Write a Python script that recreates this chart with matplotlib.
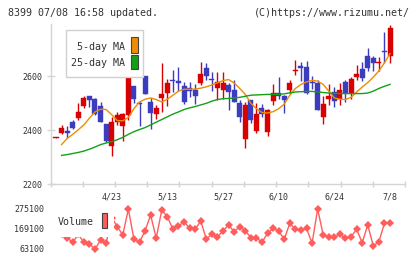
import matplotlib
matplotlib.use("Agg")
import matplotlib.pyplot as plt
from matplotlib.patches import Rectangle
import numpy as np

# ---------------- data ----------------
opens = [2373, 2390, 2396, 2431, 2447, 2490, 2526, 2515, 2489, 2422,
         2341, 2431, 2415, 2458, 2563, 2500, 2600, 2505, 2460, 2519,
         2538, 2587, 2581, 2563, 2555, 2548, 2575, 2630, 2591, 2557,
         2551, 2569, 2551, 2501, 2369, 2511, 2396, 2484, 2394, 2507,
         2540, 2528, 2548, 2619, 2637, 2634, 2579, 2575, 2449, 2516,
         2542, 2517, 2578, 2538, 2597, 2626, 2674, 2668, 2650, 2692, 2675]
closes = [2374, 2410, 2390, 2410, 2467, 2521, 2513, 2459, 2431, 2359,
          2431, 2455, 2459, 2610, 2517, 2498, 2535, 2464, 2481, 2534,
          2575, 2583, 2576, 2506, 2545, 2526, 2608, 2601, 2587, 2579,
          2575, 2542, 2505, 2449, 2493, 2440, 2459, 2459, 2477, 2540,
          2527, 2511, 2577, 2624, 2631, 2538, 2575, 2477, 2499, 2526,
          2507, 2551, 2538, 2589, 2607, 2595, 2631, 2650, 2652, 2689, 2780]
highs = [2375, 2418, 2415, 2440, 2501, 2526, 2527, 2521, 2506, 2424,
         2450, 2468, 2463, 2620, 2565, 2505, 2600, 2520, 2492, 2650,
         2590, 2622, 2635, 2580, 2580, 2570, 2653, 2650, 2616, 2616,
         2616, 2577, 2588, 2511, 2505, 2513, 2500, 2496, 2478, 2570,
         2597, 2529, 2588, 2662, 2653, 2656, 2601, 2585, 2526, 2570,
         2560, 2575, 2585, 2597, 2641, 2653, 2706, 2676, 2670, 2764, 2789]
lows = [2372, 2385, 2370, 2403, 2440, 2482, 2485, 2457, 2431, 2357,
        2305, 2418, 2360, 2440, 2500, 2415, 2533, 2405, 2443, 2468,
        2490, 2542, 2545, 2499, 2525, 2499, 2568, 2585, 2545, 2511,
        2515, 2476, 2504, 2430, 2336, 2427, 2390, 2450, 2378, 2493,
        2517, 2465, 2535, 2604, 2582, 2536, 2554, 2476, 2425, 2493,
        2487, 2493, 2505, 2515, 2585, 2583, 2620, 2620, 2620, 2649, 2649]

ma5 = [None, 2347, 2370, 2385, 2402, 2420, 2445, 2468, 2478, 2477,
       2458, 2436, 2435, 2448, 2480, 2505, 2515, 2520, 2514, 2505,
       2515, 2530, 2545, 2552, 2552, 2553, 2556, 2561, 2568, 2576,
       2584, 2588, 2575, 2555, 2533, 2500, 2480, 2466, 2464, 2469,
       2480, 2497, 2530, 2555, 2570, 2579, 2585, 2582, 2570, 2545,
       2520, 2515, 2514, 2522, 2542, 2560, 2577, 2597, 2620, 2650, 2684]
ma25 = [None, 2307, 2310, 2314, 2318, 2323, 2330, 2338, 2347, 2353,
        2358, 2365, 2374, 2385, 2395, 2403, 2410, 2420, 2430, 2440,
        2450, 2460, 2468, 2477, 2483, 2488, 2494, 2500, 2508, 2514,
        2517, 2518, 2520, 2522, 2526, 2530, 2531, 2532, 2533, 2533,
        2533, 2535, 2539, 2542, 2543, 2544, 2544, 2542, 2540, 2538,
        2537, 2536, 2536, 2536, 2536, 2536, 2538, 2545, 2555, 2563, 2570]

volume = [150000, 140000, 122000, 98600, 140000, 98600, 89600, 61500, 110800, 93300,
          230000, 181300, 137300, 275100, 114500, 98600, 160200, 243300, 119800, 269800,
          234300, 167500, 185000, 207800, 172600, 167500, 211500, 116100, 140900, 128300,
          158500, 190300, 154800, 181300, 160200, 123000, 123000, 98600, 146200, 172600,
          158500, 114500, 199300, 167500, 163800, 172600, 93300, 275100, 137300, 125000,
          125000, 142600, 119800, 128300, 167500, 96500, 190300, 79000, 101900, 199300, 199300]

date_labels = ["4/23", "5/13", "5/27", "6/10", "6/24", "7/8"]
date_idx = [10, 20, 30, 40, 50, 60]
price_ticks = [2200, 2400, 2600]
vol_ticks = [63100, 169100, 275100]

title_left = "8399 07/08 16:58 updated."
title_right = "(C)https://www.rizumu.net/"

# ---------------- style ----------------
RED = "#d80000"
BLUE = "#3c3cbe"
ORANGE = "#f08c00"
GREEN = "#14a014"
VOLC = "#ff5c5c"
AXC = "#d4d4d4"
TXT = "#333333"
MONO = "DejaVu Sans Mono"

W, H = 420, 259
fig = plt.figure(figsize=(W / 100, H / 100), dpi=100)
fig.patch.set_facecolor("white")


def fx(px):
    return px / W


def fy(py):
    return 1 - py / H


# main axes: x px 50.5..405, y px 24..184.3
ax = fig.add_axes([fx(50.5), fy(184.3), fx(405) - fx(50.5), fy(24) - fy(184.3)])
n = len(opens)
xs = np.arange(n)
step = 5.567
xl = ((50.5 - 56) / step, (405 - 56) / step)
ax.set_xlim(*xl)
ax.set_ylim(2200, 2200 + (184.3 - 24) / 0.27)

o = np.array(opens, float)
c = np.array(closes, float)
h = np.array(highs, float)
l = np.array(lows, float)
cols = [RED if cc >= oo else BLUE for oo, cc in zip(o, c)]
ax.vlines(xs, l, h, colors=cols, linewidth=1.0, zorder=2)
bottoms = np.minimum(o, c)
heights = np.maximum(np.abs(c - o), 2.5)
ax.bar(xs, heights, bottom=bottoms, width=0.9, color=cols, edgecolor=cols,
       linewidth=0.3, zorder=3)

m5 = np.array([np.nan if v is None else v for v in ma5], float)
m25 = np.array([np.nan if v is None else v for v in ma25], float)
ax.plot(xs, m5, color=ORANGE, lw=1.0, zorder=4)
ax.plot(xs, m25, color=GREEN, lw=1.0, zorder=4)

for s in ["top", "right"]:
    ax.spines[s].set_visible(False)
for s in ["left", "bottom"]:
    ax.spines[s].set_color(AXC)
    ax.spines[s].set_linewidth(1.0)
ax.set_yticks(price_ticks)
ax.set_yticklabels([str(t) for t in price_ticks], fontfamily=MONO, fontsize=6, color=TXT)
ax.tick_params(axis="y", direction="inout", length=6, width=1, color=AXC, pad=3)
xt = np.linspace(xl[0], xl[1], 12)
ax.set_xticks(xt)
ax.set_xticklabels([])
ax.tick_params(axis="x", direction="inout", length=5, width=1, color=AXC)
ax.patch.set_alpha(0)

# date labels between panels
for i, lab in zip(date_idx, date_labels):
    ax.text(i, fy(197), lab, transform=matplotlib.transforms.blended_transform_factory(ax.transData, fig.transFigure),
            ha="center", va="center", fontfamily=MONO, fontsize=6, color=TXT)

# MA legend
fig.patches.append(Rectangle((fx(65.7), fy(76.7)), fx(143.3) - fx(65.7), fy(30) - fy(76.7),
                             transform=fig.transFigure, facecolor="white", edgecolor="#d0d0d0",
                             linewidth=1.0, zorder=10))
fig.text(fx(125), fy(46.5), "5-day MA", ha="right", va="center", fontfamily=MONO,
         fontsize=7.2, color=TXT, zorder=11)
fig.text(fx(125), fy(63.3), "25-day MA", ha="right", va="center", fontfamily=MONO,
         fontsize=7.2, color=TXT, zorder=11)
fig.patches.append(Rectangle((fx(131), fy(53.3)), fx(137.7) - fx(131), fy(37.3) - fy(53.3),
                             transform=fig.transFigure, facecolor=ORANGE, edgecolor="#444444",
                             linewidth=0.8, zorder=11))
fig.patches.append(Rectangle((fx(131), fy(69.3)), fx(137.7) - fx(131), fy(54.7) - fy(69.3),
                             transform=fig.transFigure, facecolor=GREEN, edgecolor="#444444",
                             linewidth=0.8, zorder=11))

# volume axes: y px 203..255
axv = fig.add_axes([fx(50.5), fy(255), fx(405) - fx(50.5), fy(203) - fy(255)])
axv.set_xlim(*xl)
axv.set_ylim(169100 - (255 - 229) * 5300, 169100 + (229 - 203) * 5300)
axv.plot(xs, volume, color=VOLC, lw=1.0, marker="D", markersize=3.6,
         markeredgewidth=0, markerfacecolor=VOLC, zorder=2)
for s in axv.spines.values():
    s.set_visible(False)
axv.set_xticks([])
axv.set_yticks(vol_ticks)
axv.set_yticklabels([str(t) for t in vol_ticks], fontfamily=MONO, fontsize=6, color=TXT)
axv.tick_params(axis="y", length=0, pad=4.5)
axv.patch.set_alpha(0)

# volume legend (covers the line)
fig.patches.append(Rectangle((fx(52), fy(236.7)), fx(113.5) - fx(52), fy(204) - fy(236.7),
                             transform=fig.transFigure, facecolor="white", edgecolor="none",
                             zorder=10))
fig.text(fx(58), fy(222.3), "Volume", ha="left", va="center", fontfamily=MONO,
         fontsize=7.2, color=TXT, zorder=11)
fig.patches.append(Rectangle((fx(101.7), fy(228.3)), fx(107.3) - fx(101.7), fy(213.3) - fy(228.3),
                             transform=fig.transFigure, facecolor=VOLC, edgecolor="#444444",
                             linewidth=0.8, zorder=11))

# header
fig.text(fx(8), fy(12.7), title_left, ha="left", va="center", fontfamily=MONO,
         fontsize=7.2, color=TXT)
fig.text(fx(410), fy(12.7), title_right, ha="right", va="center", fontfamily=MONO,
         fontsize=7.2, color=TXT)

fig.savefig("out.png", dpi=100, facecolor="white")
